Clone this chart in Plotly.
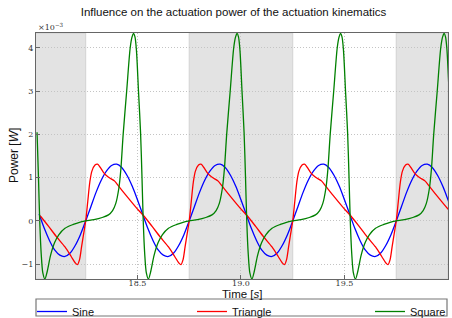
import numpy as np
import plotly.graph_objects as go

# One actuation period (0.5 s); phase in s, power in 1e-3 W
period = 0.5
period_starts = [17.75, 18.25, 18.75, 19.25, 19.75]

sine_phase = [0.0, 0.025, 0.05, 0.075, 0.1, 0.125, 0.15, 0.175, 0.2, 0.225, 0.25,
              0.275, 0.3, 0.325, 0.35, 0.375, 0.4, 0.425, 0.45, 0.475]
sine_power = [0.0, 0.33, 0.66, 0.94, 1.15, 1.28, 1.31, 1.23, 1.05, 0.80, 0.49,
              0.16, -0.17, -0.45, -0.67, -0.79, -0.82, -0.74, -0.56, -0.31]

tri_phase = [0.0, 0.01, 0.02, 0.03, 0.045, 0.057, 0.07, 0.085, 0.1, 0.12, 0.14,
             0.16, 0.2, 0.24, 0.28, 0.32, 0.36, 0.4, 0.43, 0.45, 0.46, 0.47,
             0.48, 0.49]
tri_power = [0.0, 0.45, 0.9, 1.15, 1.29, 1.31, 1.24, 1.13, 1.05, 0.98, 0.92,
             0.80, 0.56, 0.33, 0.12, -0.12, -0.37, -0.60, -0.82, -0.97, -1.01, -0.90,
             -0.60, -0.30]

sq_phase = [0.0, 0.04, 0.08, 0.11, 0.13, 0.145, 0.16, 0.17, 0.181, 0.198, 0.215,
            0.224, 0.231, 0.238, 0.245, 0.255, 0.265, 0.272, 0.278, 0.285, 0.293,
            0.303, 0.315, 0.33, 0.35, 0.37, 0.4, 0.44, 0.47]
sq_power = [0.0, 0.03, 0.08, 0.14, 0.24, 0.40, 0.75, 1.20, 2.0, 3.0, 4.0,
            4.25, 4.33, 4.25, 3.95, 3.0, 2.05, 1.0, 0.0, -0.75, -1.2,
            -1.34, -1.15, -0.80, -0.50, -0.32, -0.17, -0.08, -0.03]

shade_bands = [(18.0, 18.25), (18.75, 19.25), (19.75, 20.0)]
x_ticks = [18.5, 19.0, 19.5, 20.0]
x_tick_labels = ["18.5", "19.0", "19.5", "20.0"]
y_ticks = [-1, 0, 1, 2, 3, 4]
y_tick_labels = ["−1", "0", "1", "2", "3", "4"]
series_names = ["Sine", "Triangle", "Square"]
series_colors = ["#0000ff", "#ff0000", "#008000"]

W, H = 452, 318
L, R, T, B = 36, 4, 33, 39
PW, PH = W - L - R, H - T - B


def tile(phase, values):
    t = np.concatenate([np.asarray(phase) + s for s in period_starts] + [[period_starts[-1] + period]])
    v = np.concatenate([np.asarray(values) for _ in period_starts] + [[values[0]]])
    keep = t >= 18.01
    return t[keep], v[keep]


fig = go.Figure()
for bx0, bx1 in shade_bands:
    fig.add_vrect(x0=bx0, x1=bx1, fillcolor="#e3e3e3", line=dict(color="#d2d2d2", width=1),
                  layer="below", opacity=1)

legend_ids = ["legend", "legend2", "legend3"]
for name, color, lid, (ph, pw) in zip(series_names, series_colors, legend_ids,
                                      [(sine_phase, sine_power), (tri_phase, tri_power), (sq_phase, sq_power)]):
    t, v = tile(ph, pw)
    fig.add_trace(go.Scatter(x=t, y=v, mode="lines", name=name, legend=lid,
                             line=dict(color=color, width=1.3, shape="spline", smoothing=0.8)))

legend_font = dict(family="Liberation Sans", size=11, color="#111")
legend_text_px = [72, 232, 410]  # where each legend label starts


def legend_cfg(text_px):
    return dict(orientation="h", x=(text_px - 40 - L) / PW, xanchor="left",
                y=-(297 - (H - B)) / PH, yanchor="top",
                bgcolor="rgba(0,0,0,0)", borderwidth=0, font=legend_font)


fig.update_layout(
    width=W, height=H,
    margin=dict(l=L, r=R, t=T, b=B, autoexpand=False),
    paper_bgcolor="white", plot_bgcolor="white",
    title=dict(text="Influence on the actuation power of the actuation kinematics",
               x=233.5 / W, xanchor="center", y=1 - 12 / H, yanchor="middle", yref="container",
               font=dict(family="Liberation Sans", size=11.5, color="#111")),
    showlegend=True,
    legend=legend_cfg(legend_text_px[0]),
    legend2=legend_cfg(legend_text_px[1]),
    legend3=legend_cfg(legend_text_px[2]),
)

axis_common = dict(showgrid=True, gridcolor="#c4c4c4", griddash="1px,2px", gridwidth=1,
                   showline=True, linecolor="#666", linewidth=1.2, mirror=True,
                   ticks="inside", ticklen=4, tickcolor="#666", zeroline=False,
                   tickfont=dict(family="DejaVu Serif", size=8, color="#333"))
fig.update_xaxes(range=[18.01, 20.0], tickvals=x_ticks, ticktext=x_tick_labels,
                 ticklabelstandoff=-4, **axis_common)
fig.update_yaxes(range=[-1.34, 4.34], tickvals=y_ticks, ticktext=y_tick_labels, **axis_common)

# legend frame spanning the axis width
fig.add_shape(type="rect", xref="paper", yref="paper", x0=0, x1=(447 - L) / PW,
              y0=-(316 - (H - B)) / PH, y1=-(299 - (H - B)) / PH,
              line=dict(color="#777", width=1.2), fillcolor="rgba(0,0,0,0)")

fig.add_annotation(text="×10<sup>−3</sup>", xref="paper", yref="paper", x=0, y=1,
                   xanchor="left", yanchor="bottom", showarrow=False, yshift=-1,
                   font=dict(family="DejaVu Serif", size=8, color="#333"))
fig.add_annotation(text="Time [<i>s</i>]", xref="paper", yref="paper", x=(242 - L) / PW,
                   y=-(294 - (H - B)) / PH,
                   xanchor="center", yanchor="middle", showarrow=False,
                   font=dict(family="Liberation Sans", size=11.5, color="#111"))
fig.add_annotation(text="Power [<i>W</i>]", xref="paper", yref="paper", x=-(L - 14) / PW, y=0.5,
                   xanchor="center", yanchor="middle", showarrow=False, textangle=-90,
                   font=dict(family="Liberation Sans", size=12, color="#111"))

fig.write_html("out.html", config={"displayModeBar": False},
               post_script="document.body.style.margin='0';document.body.style.padding='0';"
                           "document.body.style.overflow='hidden';")
